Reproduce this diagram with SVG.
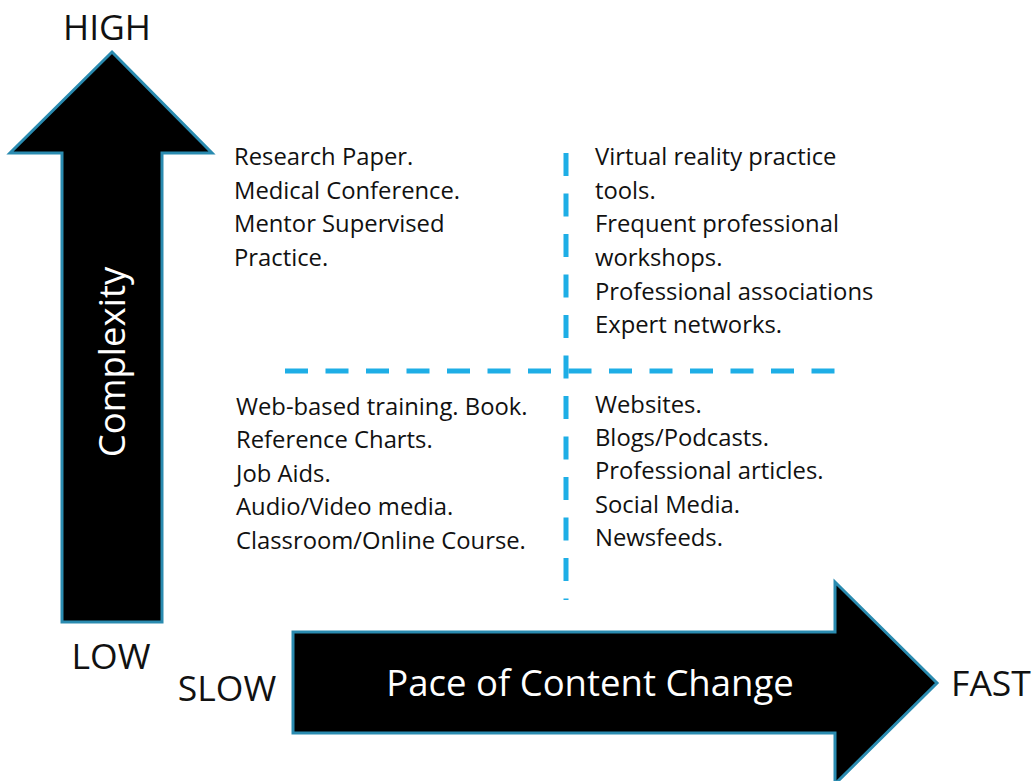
<svg xmlns="http://www.w3.org/2000/svg" width="1034" height="781" viewBox="0 0 1034 781">
<style>
.arrow{fill:#000;stroke:#2a8bb0;stroke-width:3;stroke-linejoin:miter}
.dash{stroke:#1eaee6;stroke-width:5;stroke-dasharray:23 17.5;fill:none}
.t{font-family:"Open Sans","Noto Sans","Liberation Sans",sans-serif;font-size:23.8px;fill:#111}
.lab{font-family:"Open Sans","Noto Sans","Liberation Sans",sans-serif;font-size:35.5px;fill:#111}
.w{font-family:"Open Sans","Noto Sans","Liberation Sans",sans-serif;font-size:36.5px;fill:#fff}
</style>
<rect width="1034" height="781" fill="#fff"/>
<g id="connectors">
<line class="dash" x1="566" y1="153" x2="566" y2="600"/>
<line class="dash" x1="285" y1="371" x2="836" y2="371"/>
</g>
<g id="complexity-arrow">
<polygon class="arrow" points="112,52 212,153 162,153 162,622 62,622 62,153 10,153"/>
<text class="w" transform="translate(125,362) rotate(-90)" text-anchor="middle">Complexity</text>
</g>
<g id="pace-arrow">
<polygon class="arrow" points="293,632 835,632 835,582 937,683 835,784 835,733 293,733"/>
<text class="w" x="590" y="696" text-anchor="middle">Pace of Content Change</text>
</g>
<g id="axis-labels">
<text class="lab" x="107" y="40" text-anchor="middle">HIGH</text>
<text class="lab" x="111" y="669" text-anchor="middle">LOW</text>
<text class="lab" x="227" y="701" text-anchor="middle">SLOW</text>
<text class="lab" x="991" y="696" text-anchor="middle">FAST</text>
</g>
<g id="q-top-left">
<text class="t" x="234" y="165">Research Paper.</text>
<text class="t" x="234" y="198.5">Medical Conference.</text>
<text class="t" x="234" y="232">Mentor Supervised</text>
<text class="t" x="234" y="266">Practice.</text>
</g>
<g id="q-top-right">
<text class="t" x="595" y="165">Virtual reality practice</text>
<text class="t" x="595" y="198.5">tools.</text>
<text class="t" x="595" y="232">Frequent professional</text>
<text class="t" x="595" y="266">workshops.</text>
<text class="t" x="595" y="299.5">Professional associations</text>
<text class="t" x="595" y="333">Expert networks.</text>
</g>
<g id="q-bottom-left">
<text class="t" x="236" y="415">Web-based training. Book.</text>
<text class="t" x="236" y="448">Reference Charts.</text>
<text class="t" x="236" y="482">Job Aids.</text>
<text class="t" x="236" y="515">Audio/Video media.</text>
<text class="t" x="236" y="549">Classroom/Online Course.</text>
</g>
<g id="q-bottom-right">
<text class="t" x="595" y="413">Websites.</text>
<text class="t" x="595" y="446">Blogs/Podcasts.</text>
<text class="t" x="595" y="479">Professional articles.</text>
<text class="t" x="595" y="513">Social Media.</text>
<text class="t" x="595" y="546">Newsfeeds.</text>
</g>
</svg>
